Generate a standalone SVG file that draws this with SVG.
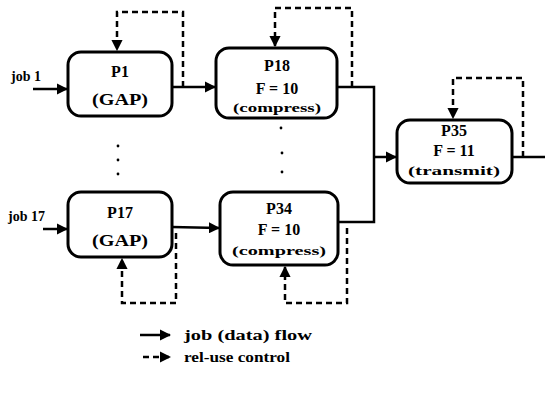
<svg xmlns="http://www.w3.org/2000/svg" width="545" height="406" viewBox="0 0 545 406">
<style>
.box{fill:#fff;stroke:#000;stroke-width:3}
.flow{fill:none;stroke:#000;stroke-width:2.5}
.ctl{fill:none;stroke:#000;stroke-width:2.5;stroke-dasharray:6 4}
.t{font-family:"Liberation Serif",serif;font-weight:bold;font-size:16px;text-anchor:middle;fill:#000}
.s{font-family:"Liberation Serif",serif;font-weight:bold;font-size:12px;text-anchor:middle;fill:#000}
.l{font-family:"Liberation Serif",serif;font-weight:bold;font-size:14px;fill:#000}
.dot{fill:#000}
</style>
<defs>
<marker id="ah" viewBox="0 0 10 10" refX="9" refY="5" markerWidth="4.5" markerHeight="4.5" orient="auto" markerUnits="strokeWidth">
<path d="M0,0 L10,5 L0,10 z" fill="#000"/>
</marker>
</defs>
<g id="connectors">
<path class="flow" d="M33,89 L67,89" marker-end="url(#ah)"/>
<path class="flow" d="M43,229 L67,229" marker-end="url(#ah)"/>
<path class="flow" d="M172,87 L215,87" marker-end="url(#ah)"/>
<path class="flow" d="M172,227 L219,228" marker-end="url(#ah)"/>
<path class="flow" d="M337,87 L374,87 L374,222 L338,222"/>
<path class="flow" d="M374,157 L396,157" marker-end="url(#ah)"/>
<path class="flow" d="M512,157 L545,157"/>
<path class="ctl" d="M183,87 L183,12 L117,12 L117,50" marker-end="url(#ah)"/>
<path class="ctl" d="M352,87 L352,8 L275,8 L275,46" marker-end="url(#ah)"/>
<path class="ctl" d="M523,157 L523,78 L453,78 L453,118" marker-end="url(#ah)"/>
<path class="ctl" d="M176,233 L176,303 L122,303 L122,259" marker-end="url(#ah)"/>
<path class="ctl" d="M347,228 L347,303 L285,303 L285,267" marker-end="url(#ah)"/>
</g>
<g id="P1">
<rect class="box" x="68" y="52" width="104" height="64" rx="13"/>
<text class="t" x="120" y="77">P1</text>
<text class="t" x="120" y="105" textLength="56" lengthAdjust="spacingAndGlyphs">(GAP)</text>
</g>
<g id="P17">
<rect class="box" x="68" y="192" width="104" height="65" rx="13"/>
<text class="t" x="120" y="218">P17</text>
<text class="t" x="120" y="246" textLength="56" lengthAdjust="spacingAndGlyphs">(GAP)</text>
</g>
<g id="P18">
<rect class="box" x="216" y="48" width="121" height="70" rx="13"/>
<text class="t" x="277" y="71">P18</text>
<text class="t" x="277" y="94">F = 10</text>
<text class="s" x="277" y="112" textLength="88" lengthAdjust="spacingAndGlyphs">(compress)</text>
</g>
<g id="P34">
<rect class="box" x="220" y="192" width="118" height="73" rx="13"/>
<text class="t" x="279" y="214">P34</text>
<text class="t" x="279" y="235">F = 10</text>
<text class="s" x="279" y="255" textLength="94" lengthAdjust="spacingAndGlyphs">(compress)</text>
</g>
<g id="P35">
<rect class="box" x="397" y="120" width="115" height="63" rx="13"/>
<text class="t" x="454" y="136">P35</text>
<text class="t" x="454" y="156">F = 11</text>
<text class="s" x="454" y="175" textLength="92" lengthAdjust="spacingAndGlyphs">(transmit)</text>
</g>
<g id="labels">
<text class="l" x="11" y="81">job 1</text>
<text class="l" x="8" y="221">job 17</text>
</g>
<g id="dots">
<circle class="dot" cx="118" cy="146" r="1.4"/>
<circle class="dot" cx="118" cy="160" r="1.4"/>
<circle class="dot" cx="118" cy="174" r="1.4"/>
<circle class="dot" cx="281" cy="128" r="1.4"/>
<circle class="dot" cx="282" cy="153" r="1.4"/>
<circle class="dot" cx="282" cy="172" r="1.4"/>
</g>
<g id="legend">
<path class="flow" d="M140,335 L170,335" marker-end="url(#ah)"/>
<text class="l" x="184" y="340" textLength="128" lengthAdjust="spacingAndGlyphs">job (data) flow</text>
<path class="ctl" d="M143,357 L170,357" marker-end="url(#ah)"/>
<text class="l" x="184" y="362" textLength="106" lengthAdjust="spacingAndGlyphs">rel-use control</text>
</g>
</svg>
